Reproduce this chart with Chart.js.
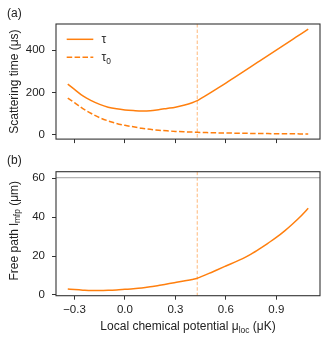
<!DOCTYPE html>
<html>
<head>
<meta charset="utf-8">
<script src="https://cdn.jsdelivr.net/npm/chart.js@4.4.1/dist/chart.umd.min.js"></script>
<style>
    html, body { margin: 0; padding: 0; background: #fff; }
    #wrap { position: relative; width: 330px; height: 340px; }
    canvas { position: absolute; left: 0; }
</style>
</head>
<body>
<div id="wrap">
    <canvas id="tauChart" width="330" height="153" style="top:0"></canvas>
    <canvas id="lmfpChart" width="330" height="187" style="top:153px"></canvas>
</div>
<script>
// Data
const muVals = [-0.34, -0.30, -0.25, -0.20, -0.15, -0.10, -0.05, 0.00, 0.05, 0.10, 0.15, 0.20, 0.25, 0.30, 0.35, 0.40, 0.43,
    0.45, 0.50, 0.55, 0.60, 0.65, 0.70, 0.75, 0.80, 0.85, 0.90, 0.95, 1.00, 1.05, 1.09];
const tauVals = [240, 215, 184, 162, 144, 131, 123, 118, 115, 113, 114, 119, 125, 131, 140, 152, 162,
    171, 195, 220, 245, 271, 297, 323, 349, 375, 401, 427, 453, 479, 500];
const tau0Vals = [174, 152, 124, 101, 81, 66, 54, 45, 38, 31, 26, 22, 19, 16.5, 14.5, 13, 12,
    11.5, 10.5, 9.5, 8.8, 8.1, 7.5, 7, 6.5, 6, 5.6, 5.2, 4.9, 4.6, 4.4];
const lmfpVals = [3.1, 2.8, 2.5, 2.3, 2.3, 2.4, 2.6, 2.9, 3.2, 3.6, 4.2, 4.9, 5.6, 6.4, 7.2, 8.0, 8.6,
    9.3, 11.1, 13.0, 14.9, 16.8, 18.7, 21.0, 23.7, 26.6, 29.6, 33.0, 36.8, 40.9, 44.6];
const muCrit = 0.43;
const lmfpLimit = 60.3;
const muTicks = [-0.3, 0.0, 0.3, 0.6, 0.9];
const tauTicks = [0, 200, 400];
const lmfpTicks = [0, 20, 40, 60];

const FONT = '"Liberation Sans", Arial, sans-serif';
const TICK_SIZE = 11.5;
const LABEL_SIZE = 12;
const ORANGE = '#ff7f0e';
const INK = '#222';

function points(ys) {
    return muVals.map((x, i) => ({ x: x, y: ys[i] }));
}

function fmtMu(v) {
    const s = Math.abs(v).toFixed(1);
    return v < -1e-9 ? '\u2212' + s : s;
}

// draw text made of parts, some of them subscript, centred on (cx, cy)
function drawRich(ctx, parts, cx, cy, size, rotate) {
    ctx.save();
    ctx.translate(cx, cy);
    if (rotate) ctx.rotate(-Math.PI / 2);
    ctx.fillStyle = INK;
    ctx.textBaseline = 'alphabetic';
    let total = 0;
    parts.forEach(p => {
        ctx.font = (p.sub ? size * 0.7 : size) + 'px ' + FONT;
        p.w = ctx.measureText(p.t).width;
        total += p.w;
    });
    let x = -total / 2;
    parts.forEach(p => {
        ctx.font = (p.sub ? size * 0.7 : size) + 'px ' + FONT;
        ctx.fillText(p.t, x, size * 0.36 + (p.sub ? size * 0.22 : 0));
        x += p.w;
    });
    ctx.restore();
}

// frame, reference lines, labels and legend
const decorPlugin = {
    id: 'decor',
    beforeDatasetsDraw(chart, args, opts) {
        const ctx = chart.ctx;
        const a = chart.chartArea;
        const xs = chart.scales.x;
        const ys = chart.scales.y;
        ctx.save();
        const px = xs.getPixelForValue(muCrit);
        ctx.strokeStyle = 'rgba(255,127,14,0.55)';
        ctx.lineWidth = 1;
        ctx.setLineDash([3.5, 2]);
        ctx.beginPath();
        ctx.moveTo(px, a.top);
        ctx.lineTo(px, a.bottom);
        ctx.stroke();
        if (opts.hline !== undefined) {
            const py = ys.getPixelForValue(opts.hline);
            ctx.setLineDash([]);
            ctx.strokeStyle = '#a0a0a0';
            ctx.lineWidth = 1;
            ctx.beginPath();
            ctx.moveTo(a.left, py);
            ctx.lineTo(a.right, py);
            ctx.stroke();
        }
        ctx.restore();
    },
    afterDraw(chart, args, opts) {
        const ctx = chart.ctx;
        const a = chart.chartArea;
        ctx.save();
        ctx.strokeStyle = '#333';
        ctx.lineWidth = 1.1;
        ctx.strokeRect(a.left, a.top, a.right - a.left, a.bottom - a.top);

        ctx.fillStyle = INK;
        ctx.font = LABEL_SIZE + 'px ' + FONT;
        ctx.textBaseline = 'middle';
        ctx.fillText(opts.panel, 7, opts.panelY);

        drawRich(ctx, opts.ylabel, 13.3, (a.top + a.bottom) / 2 + (opts.ylabelShift || 0), LABEL_SIZE, true);
        if (opts.xlabel) drawRich(ctx, opts.xlabel, (a.left + a.right) / 2, opts.xlabelY, LABEL_SIZE, false);

        if (opts.legend) {
            opts.legend.forEach((item, i) => {
                const y = 39.3 + i * 18;
                ctx.strokeStyle = ORANGE;
                ctx.lineWidth = 1.5;
                ctx.setLineDash(item.dash);
                ctx.beginPath();
                ctx.moveTo(66.7, y);
                ctx.lineTo(93.3, y);
                ctx.stroke();
                ctx.setLineDash([]);
                ctx.textBaseline = 'alphabetic';
                ctx.font = LABEL_SIZE + 'px ' + FONT;
                ctx.fillText(item.t, 101.5, y + 4);
                if (item.sub) {
                    const w = ctx.measureText(item.t).width;
                    ctx.font = (LABEL_SIZE * 0.7) + 'px ' + FONT;
                    ctx.fillText(item.sub, 101.5 + w, y + 6.5);
                }
            });
        }
        ctx.restore();
    }
};

function makeScales(cfg) {
    return {
        x: {
            type: 'linear',
            min: -0.41,
            max: 1.16,
            afterBuildTicks: s => { s.ticks = muTicks.map(v => ({ value: v })); },
            afterFit: s => { s.height = cfg.xHeight; },
            ticks: {
                callback: v => fmtMu(v),
                color: cfg.showX ? INK : 'rgba(0,0,0,0)',
                font: { family: FONT, size: TICK_SIZE },
                padding: 3,
                maxRotation: 0,
                autoSkip: false
            },
            grid: { drawOnChartArea: false, drawTicks: true, tickLength: 4, tickColor: '#333', tickWidth: 1 },
            border: { display: false }
        },
        y: {
            type: 'linear',
            min: cfg.yMin,
            max: cfg.yMax,
            afterBuildTicks: s => { s.ticks = cfg.yTicks.map(v => ({ value: v })); },
            afterFit: s => { s.width = 56; },
            ticks: {
                color: INK,
                font: { family: FONT, size: TICK_SIZE },
                padding: 7,
                autoSkip: false
            },
            grid: { drawOnChartArea: false, drawTicks: true, tickLength: 4, tickColor: '#333', tickWidth: 1 },
            border: { display: false }
        }
    };
}

function lineSet(ys, dash) {
    return {
        data: points(ys),
        borderColor: ORANGE,
        borderWidth: 1.5,
        borderDash: dash,
        pointRadius: 0,
        fill: false,
        cubicInterpolationMode: 'monotone'
    };
}

// Panel (a): scattering times
new Chart(document.getElementById('tauChart'), {
    type: 'line',
    data: { datasets: [lineSet(tauVals, []), lineSet(tau0Vals, [5.5, 2.4])] },
    options: {
        responsive: false,
        animation: false,
        devicePixelRatio: 1,
        layout: { padding: { left: 0, right: 10, top: 24, bottom: 0 } },
        scales: makeScales({ xHeight: 6, showX: false, yMin: -20, yMax: 524, yTicks: tauTicks }),
        plugins: {
            legend: { display: false },
            tooltip: { enabled: false },
            decor: {
                panel: '(a)',
                panelY: 14,
                ylabel: [{ t: 'Scattering time (\u03bcs)' }],
                legend: [{ t: '\u03c4', dash: [] }, { t: '\u03c4', sub: '0', dash: [5.5, 2.4] }]
            }
        }
    },
    plugins: [decorPlugin]
});

// Panel (b): mean free path
new Chart(document.getElementById('lmfpChart'), {
    type: 'line',
    data: { datasets: [lineSet(lmfpVals, [])] },
    options: {
        responsive: false,
        animation: false,
        devicePixelRatio: 1,
        layout: { padding: { left: 0, right: 10, top: 18.7, bottom: 0 } },
        scales: makeScales({ xHeight: 44.3, showX: true, yMin: -0.36, yMax: 63.4, yTicks: lmfpTicks }),
        plugins: {
            legend: { display: false },
            tooltip: { enabled: false },
            decor: {
                panel: '(b)',
                panelY: 8,
                hline: lmfpLimit,
                ylabel: [{ t: 'Free path l' }, { t: 'mfp', sub: true }, { t: ' (\u03bcm)' }],
                ylabelShift: -3,
                xlabel: [{ t: 'Local chemical potential \u03bc' }, { t: 'loc', sub: true }, { t: ' (\u03bcK)' }],
                xlabelY: 173
            }
        }
    },
    plugins: [decorPlugin]
});
</script>
</body>
</html>
